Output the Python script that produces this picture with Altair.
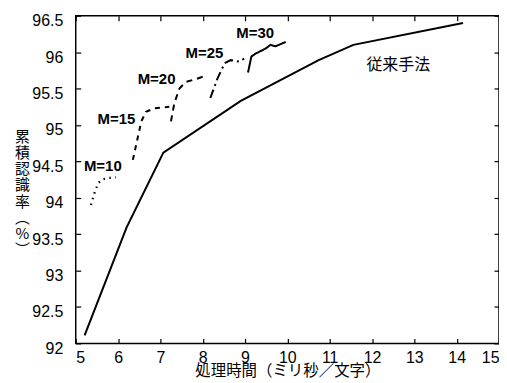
import altair as alt
import pandas as pd

# Conventional method (solid)
conv_x = [5.21, 6.20, 7.07, 8.90, 10.74, 11.56, 14.15]
conv_y = [92.11, 93.59, 94.62, 95.33, 95.89, 96.10, 96.40]

# Proposed method, different M
m10_x = [5.36, 5.44, 5.53, 5.62, 5.75, 5.95]
m10_y = [93.90, 94.06, 94.20, 94.25, 94.27, 94.28]
m15_x = [6.35, 6.47, 6.55, 6.66, 6.86, 7.21]
m15_y = [94.52, 94.84, 95.05, 95.18, 95.23, 95.25]
m20_x = [7.25, 7.33, 7.45, 7.60, 7.84, 8.09]
m20_y = [95.05, 95.30, 95.50, 95.59, 95.63, 95.68]
m25_x = [8.18, 8.35, 8.52, 8.66, 8.86, 8.98]
m25_y = [95.37, 95.64, 95.85, 95.89, 95.87, 95.91]
m30_x = [9.07, 9.15, 9.25, 9.49, 9.60, 9.72, 9.96]
m30_y = [95.72, 95.94, 95.98, 96.05, 96.10, 96.08, 96.14]

label_text = ["M=10", "M=15", "M=20", "M=25", "M=30"]
label_x = [5.64, 5.96, 6.91, 8.04, 9.24]
label_y = [94.44, 95.08, 95.63, 95.99, 96.26]

conv_label = "従来手法"
conv_label_x = 12.62
conv_label_y = 95.82

x_ticks = list(range(5, 16))
y_ticks = [92, 92.5, 93, 93.5, 94, 94.5, 95, 95.5, 96, 96.5]

x_title = "処理時間（ミリ秒／文字）"
y_title = ["累", "積", "認", "識", "率", "︵", "%", "︶"]

xs = alt.Scale(domain=[5, 15], nice=False, zero=False)
ys = alt.Scale(domain=[92, 96.5], nice=False, zero=False)

LAB = "Liberation Sans"
JP = "Noto Sans CJK JP"

common_axis = dict(domain=False, ticks=True, tickSize=5, offset=-5,
                   tickColor="black", tickWidth=1.2, grid=False)

x_axis = alt.Axis(values=x_ticks, labelFont=LAB, labelFontSize=16, labelColor="black",
                  labelPadding=6, title=x_title, titleFont=JP, titleFontSize=15.5,
                  titleFontWeight="normal", titleColor="black", titleBaseline="top",
                  titleY=25, **common_axis)
y_axis = alt.Axis(values=y_ticks, format="~f", labelFont=LAB, labelFontSize=16,
                  labelColor="black", labelPadding=13, labelOffset=5,
                  title=y_title, titleFont=JP, titleFontSize=15,
                  titleFontWeight="normal", titleColor="black", titleAngle=0,
                  titleAlign="center", titleBaseline="top", titleX=-59, titleY=114,
                  titleLineHeight=16.3, **common_axis)

x_axis_top = alt.Axis(values=x_ticks, orient="top", labels=False, title=None, **common_axis)
y_axis_right = alt.Axis(values=y_ticks, orient="right", labels=False, title=None, **common_axis)

conv_df = pd.DataFrame({"x": conv_x, "y": conv_y})

base_line = alt.Chart(conv_df).mark_line(color="black", strokeWidth=2).encode(
    x=alt.X("x:Q", scale=xs, axis=x_axis),
    y=alt.Y("y:Q", scale=ys, axis=y_axis),
)

frame_axes = alt.Chart(conv_df).mark_point(opacity=0).encode(
    x=alt.X("x:Q", scale=xs, axis=x_axis_top),
    y=alt.Y("y:Q", scale=ys, axis=y_axis_right),
)

series = [
    (m10_x, m10_y, [1.5, 4.5], 2.2),
    (m15_x, m15_y, [5, 5], 2),
    (m20_x, m20_y, [6, 5], 2),
    (m25_x, m25_y, [9, 4, 2, 4], 2),
    (m30_x, m30_y, [1, 0], 2),
]

layers = [base_line, frame_axes]
for sx, sy, dash, w in series:
    df = pd.DataFrame({"x": sx, "y": sy})
    layers.append(
        alt.Chart(df).mark_line(color="black", strokeWidth=w, strokeDash=dash).encode(
            x=alt.X("x:Q", scale=xs, axis=None), y=alt.Y("y:Q", scale=ys, axis=None)
        )
    )

lab_df = pd.DataFrame({"t": label_text, "x": label_x, "y": label_y})
layers.append(
    alt.Chart(lab_df).mark_text(font=LAB, fontSize=15, fontWeight="bold", color="black").encode(
        x=alt.X("x:Q", scale=xs, axis=None), y=alt.Y("y:Q", scale=ys, axis=None), text="t:N"
    )
)
cl_df = pd.DataFrame({"t": [conv_label], "x": [conv_label_x], "y": [conv_label_y]})
layers.append(
    alt.Chart(cl_df).mark_text(font=JP, fontSize=16, color="black").encode(
        x=alt.X("x:Q", scale=xs, axis=None), y=alt.Y("y:Q", scale=ys, axis=None), text="t:N"
    )
)

chart = alt.layer(*layers).resolve_axis(x="independent", y="independent").properties(
    width=425, height=329,
    autosize=alt.AutoSizeParams(type="none"),
    padding={"left": 68, "top": 7, "right": 0, "bottom": 38},
    background="white",
).configure_view(stroke="black", strokeWidth=1.5)

chart.save("out.html", embed_options={"renderer": "svg", "actions": False})
